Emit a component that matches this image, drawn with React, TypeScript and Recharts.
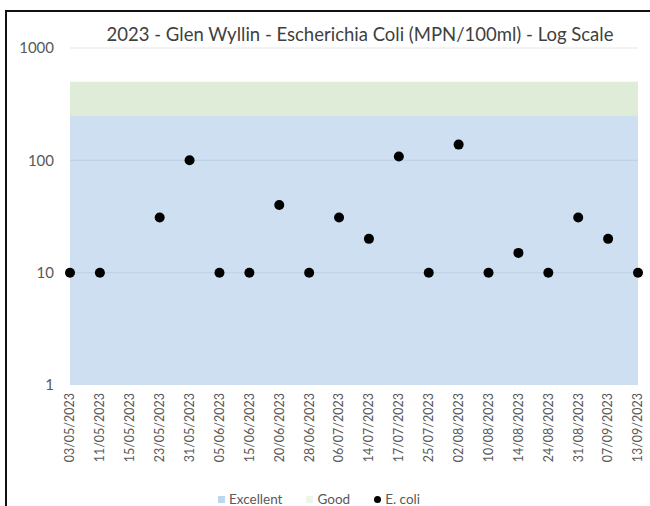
import React from "react";
import {
  ComposedChart,
  XAxis,
  YAxis,
  Area,
  Line,
  Legend,
  ReferenceLine,
} from "recharts";

const dates = [
  "03/05/2023", "11/05/2023", "15/05/2023", "23/05/2023", "31/05/2023",
  "05/06/2023", "15/06/2023", "20/06/2023", "28/06/2023", "06/07/2023",
  "14/07/2023", "17/07/2023", "25/07/2023", "02/08/2023", "10/08/2023",
  "14/08/2023", "24/08/2023", "31/08/2023", "07/09/2023", "13/09/2023",
];

// MPN/100ml, null = no sample plotted
const ecoli = [10, 10, null, 31, 100, 10, 10, 40, 10, 31, 20, 108, 10, 138, 10, 15, 10, 31, 20, 10];

// classification thresholds
const EXCELLENT_MAX = 250;
const GOOD_MAX = 500;

const yTicks = [1, 10, 100, 1000];

const FONT = "Lato, 'Liberation Sans', sans-serif";
const TEXT = "#595959";
const BLUE = "#cddff0";
const GREEN = "#dfedd8";

const data = dates.map((date, i) => ({
  date,
  excellent: EXCELLENT_MAX,
  good: GOOD_MAX,
  ecoli: ecoli[i],
}));

const DateTick = (props: any) => {
  const { x, y, payload } = props;
  return (
    <text
      x={x}
      y={y}
      transform={`rotate(-90, ${x}, ${y})`}
      textAnchor="end"
      dy="0.35em"
      fill={TEXT}
      fontSize={12.5}
      fontFamily={FONT}
    >
      {payload.value}
    </text>
  );
};

const legendItems = [
  { name: "Excellent", color: "#bdd7ee", shape: "square" },
  { name: "Good", color: "#eef5ea", shape: "square" },
  { name: "E. coli", color: "#000", shape: "circle" },
];

const LegendContent = () => (
  <div
    style={{
      display: "flex",
      justifyContent: "center",
      gap: 24,
      fontFamily: FONT,
      fontSize: 13.5,
      color: TEXT,
      height: 14,
      lineHeight: "14px",
    }}
  >
    {legendItems.map((it) => (
      <span key={it.name} style={{ display: "flex", alignItems: "center", gap: 4 }}>
        <span
          style={{
            width: 7,
            height: 7,
            background: it.color,
            borderRadius: it.shape === "circle" ? "50%" : 0,
            display: "inline-block",
          }}
        />
        {it.name}
      </span>
    ))}
  </div>
);

export default function App() {
  return (
    <div
      style={{
        position: "absolute",
        top: 0,
        left: 0,
        width: 650,
        height: 506,
        overflow: "hidden",
        background: "#fff",
      }}
    >
      <div
        style={{
          position: "absolute",
          left: 5,
          top: 10,
          width: 700,
          height: 600,
          border: "2px solid #111",
        }}
      />
      <div
        style={{
          position: "absolute",
          left: 80,
          width: 560,
          top: 23,
          textAlign: "center",
          fontFamily: FONT,
          fontSize: 18.5,
          color: "#404040",
          whiteSpace: "nowrap",
        }}
      >
        2023 - Glen Wyllin - Escherichia Coli (MPN/100ml) - Log Scale
      </div>
      <div style={{ position: "absolute", left: 0, top: 0 }}>
        <ComposedChart
          width={650}
          height={506}
          data={data}
          margin={{ top: 48, right: 12, left: 0, bottom: 0 }}
        >
          <XAxis
            dataKey="date"
            scale="point"
            padding={{ left: 0, right: 0 }}
            interval={0}
            axisLine={false}
            tickLine={false}
            tickSize={0}
            tickMargin={8}
            height={107}
            tick={<DateTick />}
          />
          <YAxis
            type="number"
            scale="log"
            domain={[1, 1000]}
            ticks={yTicks}
            allowDataOverflow
            axisLine={false}
            tickLine={false}
            tickSize={0}
            tickMargin={16}
            width={70}
            tick={{ fill: TEXT, fontSize: 15, fontFamily: FONT }}
          />
          <Area
            dataKey="good"
            name="Good"
            type="linear"
            stroke="none"
            fill={GREEN}
            fillOpacity={1}
            isAnimationActive={false}
            legendType="square"
            activeDot={false}
          />
          <Area
            dataKey="excellent"
            name="Excellent"
            type="linear"
            stroke="none"
            fill={BLUE}
            fillOpacity={1}
            isAnimationActive={false}
            legendType="square"
            activeDot={false}
          />
          {yTicks.slice(1).map((t) => (
            <ReferenceLine key={t} y={t} stroke="#9fb0c0" strokeOpacity={0.3} strokeWidth={1} />
          ))}
          <Line
            dataKey="ecoli"
            name="E. coli"
            stroke="none"
            dot={{ r: 5, fill: "#000", stroke: "none" }}
            activeDot={false}
            isAnimationActive={false}
            legendType="circle"
          />
          <Legend verticalAlign="bottom" content={<LegendContent />} />
        </ComposedChart>
      </div>
    </div>
  );
}
